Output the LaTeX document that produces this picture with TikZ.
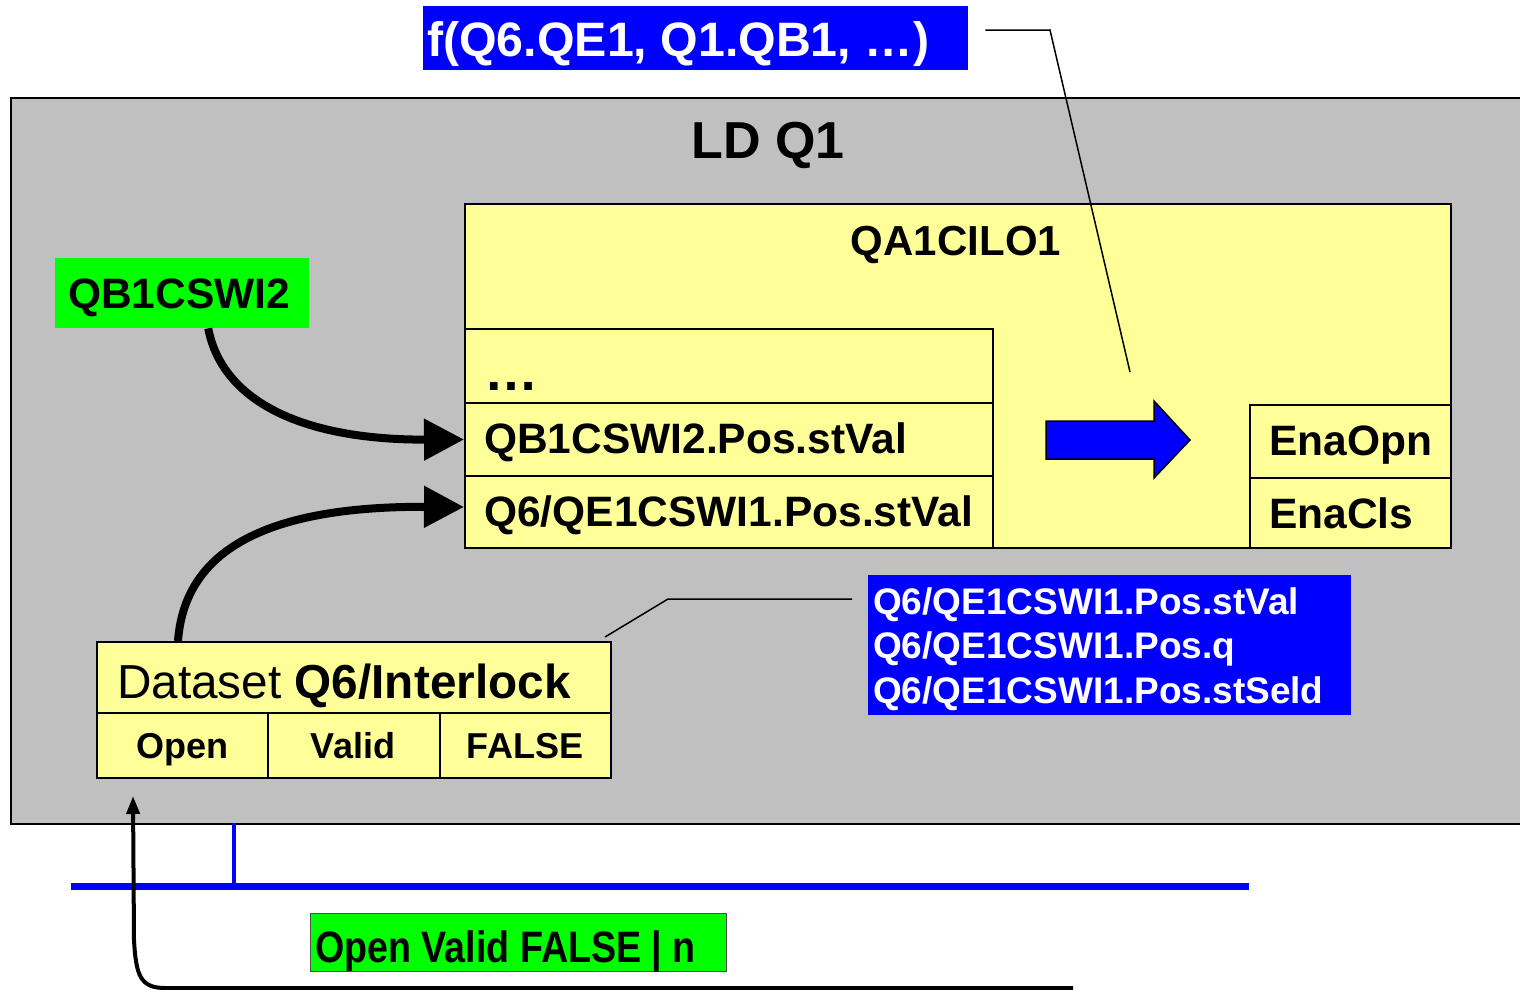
\documentclass[tikz,border=0pt]{standalone}
\usepackage{fontspec}
\setmainfont{Liberation Sans}
\usetikzlibrary{arrows.meta}
\definecolor{ldgray}{HTML}{C0C0C0}
\definecolor{yel}{HTML}{FFFF99}
\definecolor{pblue}{HTML}{0000FF}
\definecolor{pgreen}{HTML}{00FF00}
\begin{document}
\begin{tikzpicture}[x=1pt,y=-1pt,
  box/.style={draw=black, line width=2pt, fill=yel, inner sep=0pt, anchor=north west},
  cell/.style={box},
  lbl/.style={anchor=base west, inner sep=0pt, font=\fontsize{42.5}{48}\selectfont\bfseries},
  small/.style={anchor=base, inner sep=0pt, font=\fontsize{36}{42}\selectfont\bfseries},
  listtxt/.style={anchor=base west, inner sep=0pt, text=white, font=\fontsize{37}{42}\selectfont\bfseries},
  bigarrow/.style={line width=8pt, -{Triangle[length=40pt,width=40pt]}},
  callout/.style={line width=1.5pt},
  bus/.style={pblue, line width=7pt}
]
\useasboundingbox (0,0) rectangle (1520,990);
\clip (0,0) rectangle (1520,990);
\fill[white] (0,0) rectangle (1520,990);

% LD frame
\node[draw=black, line width=2pt, fill=ldgray, inner sep=0pt, anchor=north west,
  minimum width=1530pt, minimum height=726pt] (ld) at (10,97) {};
\node[anchor=base, inner sep=0pt, font=\fontsize{52}{58}\selectfont\bfseries] (ldt) at (768,158) {LD Q1};

% title
\node[fill=pblue, inner sep=0pt, anchor=north west, minimum width=545pt, minimum height=64pt] (fbox) at (423,6) {};
\node[anchor=base west, inner sep=0pt, text=white, font=\fontsize{48.3}{54}\selectfont\bfseries] (ftxt) at (427,57) {f(Q6.QE1, Q1.QB1, …)};

% QA1CILO1
\node[box, minimum width=986pt, minimum height=344pt] (ilo) at (464,203) {};
\node[anchor=base, inner sep=0pt, font=\fontsize{42}{48}\selectfont\bfseries] (ilot) at (956,255) {QA1CILO1};

\node[cell, minimum width=528pt, minimum height=74pt] (r1) at (464,328) {};
\node[cell, minimum width=528pt, minimum height=73pt] (r2) at (464,402) {};
\node[cell, minimum width=528pt, minimum height=72pt] (r3) at (464,475) {};
\node[anchor=base west, inner sep=0pt, font=\fontsize{54}{60}\selectfont\bfseries] (t1) at (484,390) {…};
\node[lbl] (t2) at (484,453) {QB1CSWI2.Pos.stVal};
\node[lbl] (t3) at (484,526) {Q6/QE1CSWI1.Pos.stVal};

\node[cell, minimum width=201pt, minimum height=73pt] (e1) at (1249,404) {};
\node[cell, minimum width=201pt, minimum height=70pt] (e2) at (1249,477) {};
\node[lbl] (te1) at (1269,455) {EnaOpn};
\node[lbl] (te2) at (1269,528) {EnaCls};

% block arrow
\draw[black, line width=1.5pt, fill=pblue] (1046,421) -- (1154,421) -- (1154,401) -- (1190,440)
  -- (1154,478) -- (1154,459) -- (1046,459) -- cycle;

% QB1CSWI2
\node[fill=pgreen, inner sep=0pt, anchor=north west, minimum width=254pt, minimum height=70pt] (qb1) at (55,258) {};
\node[lbl] (qb1t) at (68,308) {QB1CSWI2};

% Dataset
\node[box, minimum width=514pt, minimum height=71pt] (ds) at (96,641) {};
\node[anchor=base west, inner sep=0pt, font=\fontsize{47.7}{54}\selectfont] (dst) at (117,698) {Dataset \textbf{Q6/Interlock}};
\node[cell, minimum width=171pt, minimum height=65pt] (c1) at (96,712) {};
\node[cell, minimum width=172pt, minimum height=65pt] (c2) at (267,712) {};
\node[cell, minimum width=171pt, minimum height=65pt] (c3) at (439,712) {};
\node[small] (c1t) at (182,758) {Open};
\node[small] (c2t) at (353,758) {Valid};
\node[small] (c3t) at (525,758) {FALSE};

% blue list
\node[fill=pblue, inner sep=0pt, anchor=north west, minimum width=483pt, minimum height=140pt] (lst) at (868,575) {};
\node[listtxt] (l1) at (873,614) {Q6/QE1CSWI1.Pos.stVal};
\node[listtxt] (l2) at (873,658) {Q6/QE1CSWI1.Pos.q};
\node[listtxt] (l3) at (873,703) {Q6/QE1CSWI1.Pos.stSeld};

% bus
\coordinate (busL) at (71,886);
\coordinate (busR) at (1249,886);
\coordinate (busT) at (234,823);
\coordinate (busJ) at (234,886);
\draw[bus] (busL) -- (busR);
\draw[pblue, line width=4pt] (busT) -- (busJ);

% green message
\node[draw=black!70, line width=1pt, fill=pgreen, inner sep=0pt, anchor=north west, minimum width=416pt, minimum height=58pt] (msg) at (310,913) {};
\node[anchor=base west, inner sep=0pt, font=\fontsize{44}{50}\selectfont\bfseries] (msgt) at (315,962) {\scalebox{0.855}[1]{Open Valid FALSE | n}};

% arrows
\draw[bigarrow] ([xshift=26pt]qb1.south) .. controls (222,400) and (300,440) .. (r2.west);
\draw[bigarrow] ([xshift=82pt]ds.north west) .. controls (184,560) and (250,506) .. ([yshift=5pt]r3.west);

\coordinate (msgend) at (1073,988);
\draw[line width=4pt, -{Triangle[length=18pt,width=13pt]}] (msgend) -- (165,988)
  .. controls (140,988) and (136,975) .. (134,940) -- ([xshift=37pt,yshift=-17pt]c1.south west);

% callouts
\coordinate (fc1) at (1050,30);
\coordinate (fc2) at (1130,372);
\draw[callout] ([xshift=17pt,yshift=8pt]fbox.east) -- (fc1) -- (fc2);
\coordinate (dc1) at (668,599);
\coordinate (dc2) at (852,599);
\draw[callout] ([xshift=-7pt,yshift=4pt]ds.north east) -- (dc1) -- (dc2);
\end{tikzpicture}
\end{document}
